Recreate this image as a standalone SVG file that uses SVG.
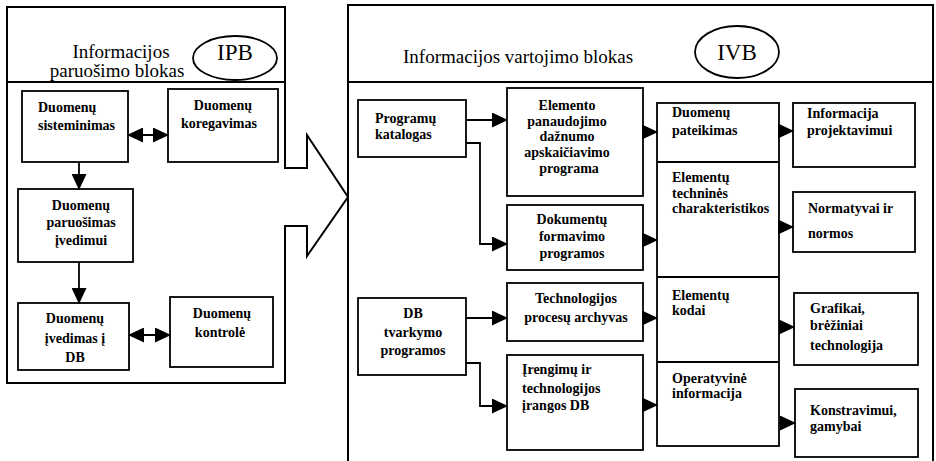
<svg xmlns="http://www.w3.org/2000/svg" width="936" height="461" viewBox="0 0 936 461" font-family="'Liberation Serif', 'DejaVu Serif', serif">
<style>
.box{fill:#fff;stroke:#000;stroke-width:1.8}
.out{fill:none;stroke:#000;stroke-width:2}
.ln{fill:none;stroke:#000;stroke-width:1.8}
text{font-family:'Liberation Serif','DejaVu Serif',serif}
.t{font-size:14px;font-weight:bold;fill:#000}
.c{text-anchor:middle}
.h{font-size:19px;fill:#000}
.e{font-size:23px;fill:#000;text-anchor:middle}
.con{fill:none;stroke:#000;stroke-width:1.8;marker-end:url(#ah)}
.dbl{marker-start:url(#ah)}
</style>
<defs>
<marker id="ah" markerUnits="userSpaceOnUse" markerWidth="16" markerHeight="15" refX="15" refY="7.5" orient="auto-start-reverse" viewBox="0 0 16 15">
<path d="M0,0 L16,7.5 L0,15 Z" fill="#000"/>
</marker>
</defs>
<rect width="936" height="461" fill="#fff"/>

<g id="ipb-block">
<path class="out" d="M285,226 V383 H7 V7 H285 V168 H307 V135 L348,197 L307,256 V226 Z"/>
<line class="ln" x1="7" y1="82" x2="285" y2="82"/>
<text class="h c" x="121" y="58">Informacijos</text>
<text class="h c" x="117" y="77">paruošimo blokas</text>
<ellipse class="box" cx="235" cy="58" rx="42" ry="22"/>
<text class="e" x="235" y="60">IPB</text>
</g>

<g id="ivb-block">
<rect class="out" x="348" y="5" width="585" height="470"/>
<line class="ln" x1="348" y1="82" x2="933" y2="82"/>
<text class="h" x="403" y="63">Informacijos vartojimo blokas</text>
<ellipse class="box" cx="737" cy="52" rx="42" ry="26"/>
<text class="e" x="737" y="60">IVB</text>
</g>

<g id="n-sisteminimas">
<rect class="box" x="22" y="91" width="106" height="71"/>
<text class="t" x="38" y="112">Duomenų</text>
<text class="t" x="38" y="130">sisteminimas</text>
</g>
<g id="n-koregavimas">
<rect class="box" x="168" y="89" width="110" height="73"/>
<text class="t c" x="223" y="110">Duomenų</text>
<text class="t c" x="219" y="128">koregavimas</text>
</g>
<g id="n-paruosimas">
<rect class="box" x="18" y="189" width="115" height="73"/>
<text class="t c" x="81" y="210">Duomenų</text>
<text class="t c" x="81" y="227">paruošimas</text>
<text class="t c" x="81" y="245">įvedimui</text>
</g>
<g id="n-ivedimas">
<rect class="box" x="18" y="303" width="111" height="67"/>
<text class="t c" x="75" y="323">Duomenų</text>
<text class="t c" x="75" y="343">įvedimas į</text>
<text class="t c" x="75" y="362">DB</text>
</g>
<g id="n-kontrole">
<rect class="box" x="170" y="297" width="103" height="70"/>
<text class="t c" x="222" y="318">Duomenų</text>
<text class="t c" x="220" y="337">kontrolė</text>
</g>

<g id="n-katalogas">
<rect class="box" x="358" y="100" width="108" height="57"/>
<text class="t" x="375" y="123">Programų</text>
<text class="t" x="375" y="139">katalogas</text>
</g>
<g id="n-elemento">
<rect class="box" x="507" y="88" width="136" height="108"/>
<text class="t c" x="567" y="110">Elemento</text>
<text class="t c" x="567" y="126">panaudojimo</text>
<text class="t c" x="567" y="141">dažnumo</text>
<text class="t c" x="567" y="157">apskaičiavimo</text>
<text class="t c" x="569" y="173">programa</text>
</g>
<g id="n-dokumentu">
<rect class="box" x="507" y="205" width="136" height="65"/>
<text class="t c" x="572" y="224">Dokumentų</text>
<text class="t c" x="572" y="241">formavimo</text>
<text class="t c" x="572" y="258">programos</text>
</g>
<g id="n-dbtvarkymo">
<rect class="box" x="358" y="298" width="108" height="77"/>
<text class="t c" x="413" y="318">DB</text>
<text class="t c" x="413" y="337">tvarkymo</text>
<text class="t c" x="413" y="355">programos</text>
</g>
<g id="n-technologijos">
<rect class="box" x="507" y="283" width="136" height="58"/>
<text class="t c" x="576" y="303">Technologijos</text>
<text class="t c" x="576" y="322">procesų archyvas</text>
</g>
<g id="n-irengimu">
<rect class="box" x="507" y="355" width="136" height="95"/>
<text class="t" x="522" y="374">Įrengimų ir</text>
<text class="t" x="522" y="393">technologijos</text>
<text class="t" x="522" y="410">įrangos DB</text>
</g>

<g id="n-middle">
<rect class="box" x="657" y="103" width="122" height="343"/>
<line class="ln" x1="657" y1="162" x2="779" y2="162"/>
<line class="ln" x1="657" y1="277" x2="779" y2="277"/>
<line class="ln" x1="657" y1="362" x2="779" y2="362"/>
</g>
<g id="n-pateikimas">
<text class="t" x="672" y="117">Duomenų</text>
<text class="t" x="672" y="135">pateikimas</text>
</g>
<g id="n-technines">
<text class="t" x="672" y="182">Elementų</text>
<text class="t" x="672" y="198">techninės</text>
<text class="t" x="672" y="213">charakteristikos</text>
</g>
<g id="n-kodai">
<text class="t" x="672" y="300">Elementų</text>
<text class="t" x="672" y="315">kodai</text>
</g>
<g id="n-operatyvine">
<text class="t" x="672" y="383">Operatyvinė</text>
<text class="t" x="672" y="398">informacija</text>
</g>

<g id="n-projektavimui">
<rect class="box" x="793" y="103" width="122" height="64"/>
<text class="t" x="807" y="118">Informacija</text>
<text class="t" x="807" y="135">projektavimui</text>
</g>
<g id="n-normatyvai">
<rect class="box" x="793" y="192" width="122" height="60"/>
<text class="t" x="808" y="213">Normatyvai ir</text>
<text class="t" x="808" y="238">normos</text>
</g>
<g id="n-grafikai">
<rect class="box" x="794" y="293" width="124" height="72"/>
<text class="t" x="810" y="313">Grafikai,</text>
<text class="t" x="810" y="330">brėžiniai</text>
<text class="t" x="810" y="350">technologija</text>
</g>
<g id="n-konstravimui">
<rect class="box" x="795" y="389" width="123" height="68"/>
<text class="t" x="810" y="415">Konstravimui,</text>
<text class="t" x="810" y="431">gamybai</text>
</g>

<g id="connectors">
<line class="con dbl" x1="128" y1="135" x2="168" y2="135"/>
<line class="con" x1="79" y1="162" x2="79" y2="189"/>
<line class="con" x1="79" y1="262" x2="79" y2="303"/>
<line class="con dbl" x1="129" y1="335" x2="170" y2="335"/>
<line class="con" x1="466" y1="120" x2="507" y2="120"/>
<path class="con" d="M466,143 H480 V244 H507"/>
<line class="con" x1="466" y1="318" x2="507" y2="318"/>
<path class="con" d="M466,363 H480 V406 H507"/>
<line class="con" x1="643" y1="132" x2="657" y2="132"/>
<line class="con" x1="643" y1="240" x2="657" y2="240"/>
<line class="con" x1="643" y1="318" x2="657" y2="318"/>
<line class="con" x1="643" y1="405" x2="657" y2="405"/>
<line class="con" x1="779" y1="131" x2="793" y2="131"/>
<line class="con" x1="779" y1="227" x2="793" y2="227"/>
<line class="con" x1="779" y1="327" x2="794" y2="327"/>
<line class="con" x1="779" y1="423" x2="795" y2="423"/>
</g>
</svg>
